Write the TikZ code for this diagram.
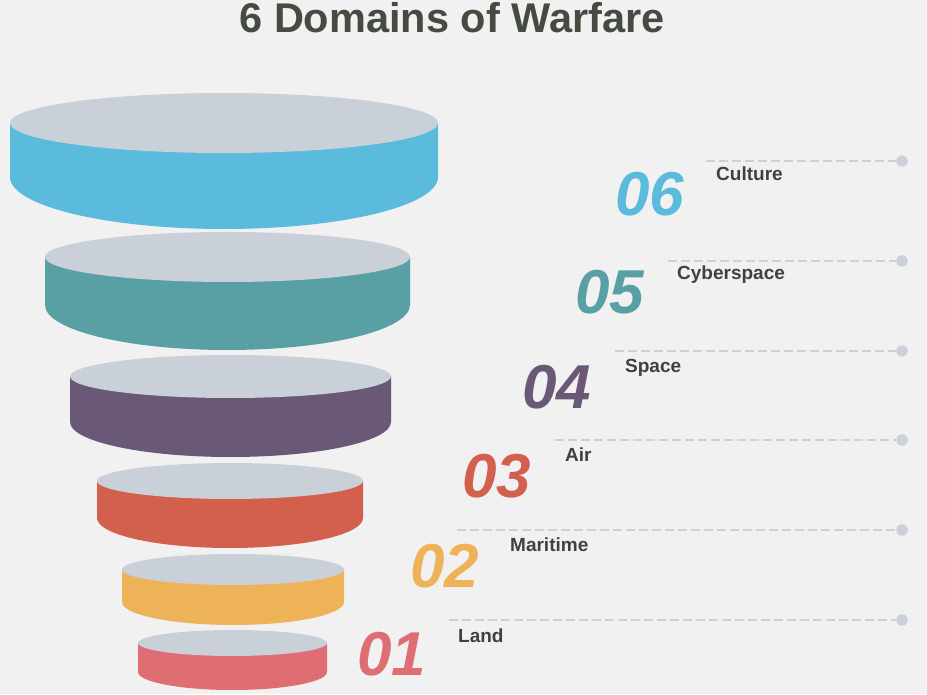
\documentclass[tikz,border=0pt]{standalone}
\usepackage{fontspec}
\setmainfont{Liberation Sans}
\definecolor{bg}{HTML}{F1F1F1}
\definecolor{topgray}{HTML}{CAD0D8}
\definecolor{cyanD}{HTML}{5BBBDC}
\definecolor{tealD}{HTML}{58A0A4}
\definecolor{purpD}{HTML}{6A5877}
\definecolor{redD}{HTML}{D3604C}
\definecolor{yelD}{HTML}{EEB259}
\definecolor{pinkD}{HTML}{DE6E73}
\definecolor{lblgray}{HTML}{3E423F}
\definecolor{titlegray}{HTML}{454B40}
\definecolor{linegray}{HTML}{CBD1D9}
\newcommand{\diskshape}[7]{%
  \fill[#7] (#1-#2,#3) -- (#1-#2,#5) arc[start angle=180,end angle=360,x radius=#2,y radius=#6] -- (#1+#2,#3) -- cycle;
  \fill[topgray] (#1,#3) ellipse[x radius=#2, y radius=#4];
}
\begin{document}
\begin{tikzpicture}[x=1pt,y=1pt,
  numtext/.style={inner sep=0pt, font=\fontsize{62}{62}\selectfont\bfseries\itshape},
  lbltext/.style={inner sep=0pt, anchor=base west, text=lblgray, font=\fontsize{19}{19}\selectfont\bfseries},
  dashline/.style={draw=linegray, line width=2.7pt, dash pattern=on 8.5pt off 4.5pt},
  enddot/.style={circle, fill=linegray, minimum size=11.5pt, inner sep=0pt}]
\fill[bg] (0,0) rectangle (927,694);
\useasboundingbox (0,0) rectangle (927,694);
% title
\node[font=\fontsize{41.5}{41.5}\selectfont\bfseries, text=titlegray, inner sep=0pt] (title) at (452,676) {6 Domains of Warfare};
% disks
\diskshape{224}{214}{571}{30}{517}{52}{cyanD}
\diskshape{227.5}{182.5}{437}{25}{389}{45}{tealD}
\diskshape{230.5}{160.5}{317.5}{21.5}{272}{35}{purpD}
\diskshape{230}{133}{213}{18}{176}{30}{redD}
\diskshape{233}{111}{124.5}{15.5}{92}{23}{yelD}
\diskshape{232.5}{94.5}{51}{13}{22}{18}{pinkD}
% lines
\coordinate (s6) at (706,533);
\coordinate (s5) at (668,433);
\coordinate (s4) at (615,343);
\coordinate (s3) at (555,254);
\coordinate (s2) at (457,164);
\coordinate (s1) at (449,74);
\node[enddot] (d6) at (902,533) {};
\node[enddot] (d5) at (902,433) {};
\node[enddot] (d4) at (902,343) {};
\node[enddot] (d3) at (902,254) {};
\node[enddot] (d2) at (902,164) {};
\node[enddot] (d1) at (902,74) {};
\foreach \i in {1,...,6} \draw[dashline] (s\i) -- (d\i);
% numbers
\node[numtext, text=cyanD] (n6) at (650,500) {06};
\node[numtext, text=tealD] (n5) at (610,402) {05};
\node[numtext, text=purpD] (n4) at (557,307) {04};
\node[numtext, text=redD] (n3) at (497,218) {03};
\node[numtext, text=yelD] (n2) at (445,128) {02};
\node[numtext, text=pinkD] (n1) at (392,39.5) {01};
% labels
\node[lbltext] (l6) at (716,513) {Culture};
\node[lbltext] (l5) at (677,414) {Cyberspace};
\node[lbltext] (l4) at (625,321) {Space};
\node[lbltext] (l3) at (565,232) {Air};
\node[lbltext] (l2) at (510,142) {Maritime};
\node[lbltext] (l1) at (458,52) {Land};
\end{tikzpicture}
\end{document}
